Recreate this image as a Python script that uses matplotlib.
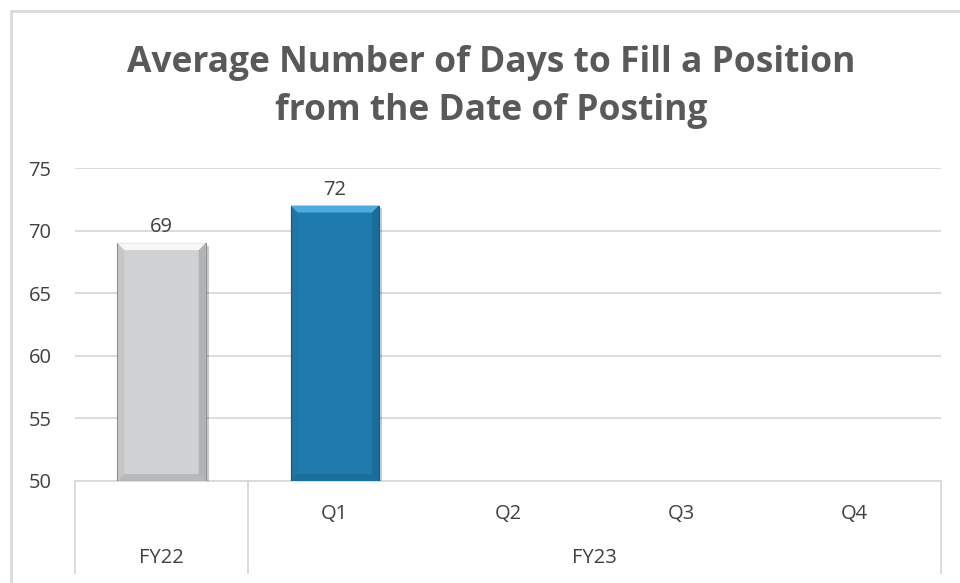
import matplotlib.pyplot as plt
import matplotlib.patheffects as pe
from matplotlib.patches import Polygon, Rectangle

# data
quarters = ["", "Q1", "Q2", "Q3", "Q4"]
years = ["FY22", "FY23"]
year_span = [(0, 1), (1, 5)]   # category index range for each year
values = [69, 72, None, None, None]
bar_colors = ["#D0D1D3", "#1F7BAE", "#1F7BAE", "#1F7BAE", "#1F7BAE"]
top_colors = ["#F7F7F7", "#4DAAE0", "#4DAAE0", "#4DAAE0", "#4DAAE0"]
side_colors = ["#8C8D8F", "#145A80", "#145A80", "#145A80", "#145A80"]
y_ticks = [50, 55, 60, 65, 70, 75]

plt.rcParams['font.family'] = ['Open Sans', 'DejaVu Sans']
txt = "#404040"
fs = 14.5

fig = plt.figure(figsize=(9.6, 5.83), dpi=100)
ax = fig.add_axes([75/960, 1-481/583, (941-75)/960, (481-168)/583])

# outer chart frame
fig.add_artist(Rectangle((11/960, -0.1), 1.2, 1 - 10.5/583 + 0.1, transform=fig.transFigure,
                         fill=False, edgecolor="#D9D9D9", linewidth=2))

x = list(range(len(quarters)))
ax.set_xlim(-0.5, len(quarters) - 0.5)
ax.set_ylim(y_ticks[0], y_ticks[-1])

bw = 0.51
# bevel size in data units (approx 7 px)
px_x = 1 / 173.2
px_y = 25 / 313
bev_x, bev_y = 7 * px_x, 7 * px_y

for i, v in enumerate(values):
    if v is None:
        continue
    b = ax.bar(i, v - y_ticks[0], bottom=y_ticks[0], width=bw, color=bar_colors[i],
               edgecolor=side_colors[i], linewidth=0.8, zorder=3)[0]
    b.set_path_effects([pe.SimplePatchShadow(offset=(2, -2), shadow_rgbFace="#000000", alpha=0.2),
                        pe.Normal()])
    x0, x1 = b.get_x(), b.get_x() + b.get_width()
    y0, y1 = y_ticks[0], v
    # top bevel
    ax.add_patch(Polygon([(x0, y1), (x1, y1), (x1 - bev_x, y1 - bev_y), (x0 + bev_x, y1 - bev_y)],
                         closed=True, facecolor=top_colors[i], edgecolor="none", zorder=4))
    # right bevel
    ax.add_patch(Polygon([(x1, y1), (x1, y0), (x1 - bev_x, y0 + bev_y), (x1 - bev_x, y1 - bev_y)],
                         closed=True, facecolor=side_colors[i], edgecolor="none", alpha=0.45, zorder=4))
    # bottom bevel
    ax.add_patch(Polygon([(x0, y0), (x1, y0), (x1 - bev_x, y0 + bev_y), (x0 + bev_x, y0 + bev_y)],
                         closed=True, facecolor=side_colors[i], edgecolor="none", alpha=0.35, zorder=4))
    # left bevel
    ax.add_patch(Polygon([(x0, y1), (x0, y0), (x0 + bev_x, y0 + bev_y), (x0 + bev_x, y1 - bev_y)],
                         closed=True, facecolor=side_colors[i], edgecolor="none", alpha=0.15, zorder=4))
    ax.text(i, v + 0.45, str(v), ha="center", va="bottom", fontsize=fs, color=txt)

ax.set_yticks(y_ticks)
ax.tick_params(axis="y", length=0, labelsize=fs, labelcolor=txt, pad=17)
ax.set_xticks([])
ax.grid(axis="y", color="#D9D9D9", linewidth=1.3, zorder=0)
for s in ["top", "right", "left"]:
    ax.spines[s].set_visible(False)
ax.spines["bottom"].set_color("#D9D9D9")
ax.spines["bottom"].set_linewidth(1.3)

# two-level category axis
tr = ax.get_xaxis_transform()
for i, q in enumerate(quarters):
    ax.text(i, -0.105, q, transform=tr, ha="center", va="center", fontsize=fs, color=txt)
for (a, b_), yr in zip(year_span, years):
    ax.text((a + b_ - 1) / 2, -0.245, yr, transform=tr, ha="center", va="center", fontsize=fs, color=txt)
seps = [-0.5, 0.5, len(quarters) - 0.5]
for s in seps:
    ax.plot([s, s], [0, -0.295], transform=tr, color="#D9D9D9", linewidth=1.3, clip_on=False)

fig.text(491/960, 1 - 87/583, "Average Number of Days to Fill a Position\nfrom the Date of Posting",
         ha="center", va="center", fontsize=25.5, fontweight="bold", color="#595959", linespacing=1.45)

fig.savefig("out.png", dpi=100)
